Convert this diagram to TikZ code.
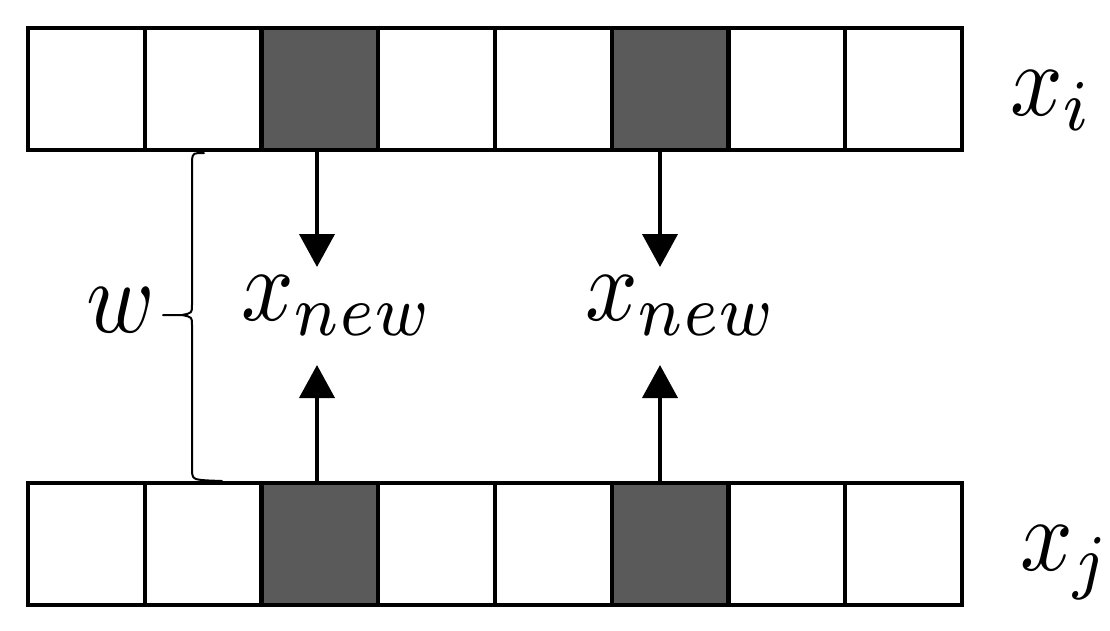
\documentclass[tikz,border=0pt]{standalone}
\usepackage{graphicx}
\usetikzlibrary{arrows.meta}
\newcommand{\hugelab}[1]{\scalebox{5.25}[5.9]{$#1$}}
\begin{document}
\begin{tikzpicture}[x=0.02cm,y=-0.02cm,
  cell/.style={draw=black,line width=0.08cm,fill=white,minimum width=2.335cm,minimum height=2.44cm,inner sep=0pt,outer sep=0pt},
  dark/.style={cell,fill=darkcell},
  arr/.style={line width=0.08cm,-{Triangle[width=0.7cm,length=0.66cm]}},
  lab/.style={inner sep=0pt,outer sep=0pt},
  bracepath/.style={line width=0.04cm,line cap=round,line join=round}]
\definecolor{darkcell}{HTML}{5A5A5A}
\useasboundingbox (0,0) rectangle (1110,630);
% top row
\foreach \i in {1,...,8}{
  \pgfmathsetmacro{\cx}{28+(\i-0.5)*116.75}
  \ifnum\i=3 \node[dark] (t\i) at (\cx,89) {};
  \else\ifnum\i=6 \node[dark] (t\i) at (\cx,89) {};
  \else \node[cell] (t\i) at (\cx,89) {};\fi\fi
}
% bottom row
\foreach \i in {1,...,8}{
  \pgfmathsetmacro{\cx}{28+(\i-0.5)*116.75}
  \ifnum\i=3 \node[dark] (b\i) at (\cx,544) {};
  \else\ifnum\i=6 \node[dark] (b\i) at (\cx,544) {};
  \else \node[cell] (b\i) at (\cx,544) {};\fi\fi
}
% labels
\node[lab,anchor=base west] (xi) at (1010,115) {\hugelab{x_i}};
\node[lab,anchor=base west] (xj) at (1020,570) {\hugelab{x_j}};
\node[lab,anchor=base west] (n1) at (241,320) {\hugelab{x_{new}}};
\node[lab,anchor=base west] (n2) at (585,320) {\hugelab{x_{new}}};
\node[lab,anchor=base west] (w) at (86,332) {\hugelab{w}};
% arrows
\coordinate (d1) at (317,267);
\coordinate (u1) at (317,365);
\coordinate (d2) at (660,267);
\coordinate (u2) at (660,365);
\draw[arr] (t3.south -| d1) -- (d1);
\draw[arr] (b3.north -| u1) -- (u1);
\draw[arr] (t6.south -| d2) -- (d2);
\draw[arr] (b6.north -| u2) -- (u2);
% brace
\draw[bracepath] (204,153) .. controls (193,153) .. (192,160) -- (192,305)
  .. controls (192,313) .. (182,315) -- (163,315);
\draw[bracepath] (182,315) .. controls (192,317) .. (192,325) -- (192,472)
  .. controls (193,480) .. (222,481);
\end{tikzpicture}
\end{document}
